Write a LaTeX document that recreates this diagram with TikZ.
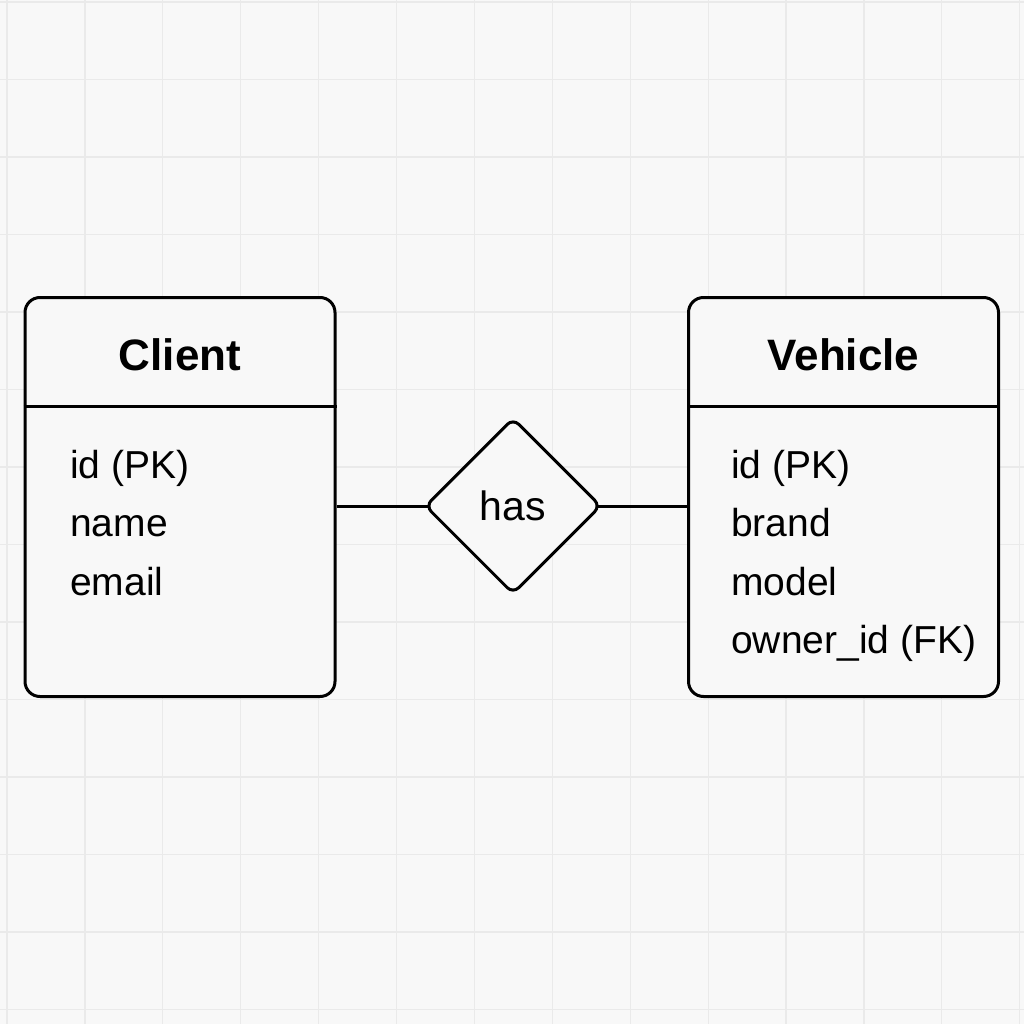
\documentclass[tikz,border=0pt]{standalone}
\usepackage{fontspec}
\setmainfont{Liberation Sans}
\usetikzlibrary{shapes.geometric}
\definecolor{bgcol}{HTML}{F8F8F8}
\definecolor{gridcol}{HTML}{EAEAEA}
\tikzset{
  entity/.style={draw=black, line width=3pt, rounded corners=15pt, minimum width=310pt, inner sep=0pt, fill=bgcol},
  titletext/.style={font=\fontsize{44}{52}\selectfont\bfseries, inner sep=0pt, anchor=base},
  attrtext/.style={font=\fontsize{39}{46}\selectfont, inner sep=0pt, anchor=base west},
  relation/.style={draw=black, line width=3pt, shape=diamond, minimum width=176pt, minimum height=176pt, inner sep=0pt, rounded corners=8pt, fill=bgcol, font=\fontsize{41}{48}\selectfont},
  conn/.style={draw=black, line width=3pt},
  gridline/.style={draw=gridcol, line width=1.2pt}
}
\begin{document}
\begin{tikzpicture}[x=1pt,y=-1pt]
\useasboundingbox (0,0) rectangle (1024,1024);
\fill[bgcol] (0,0) rectangle (1024,1024);
\foreach \i in {0,...,13} {
  \draw[gridline] (7+77.9*\i,0) -- (7+77.9*\i,1024);
  \draw[gridline] (0,2+77.5*\i) -- (1024,2+77.5*\i);
}
% Client entity
\node[entity, minimum height=399pt] (client) at (180,497) {};
\node[titletext] (clienttitle) at (180,370) {Client};
\draw[conn] (client.west |- 0,406) -- (client.east |- 0,406);
\node[attrtext] (c1) at (70,478) {id (PK)};
\node[attrtext] (c2) at (70,536) {name};
\node[attrtext] (c3) at (70,595) {email};
% Vehicle entity
\node[entity, minimum height=399pt] (vehicle) at (843.5,497) {};
\node[titletext] (vehicletitle) at (843.5,370) {Vehicle};
\draw[conn] (vehicle.west |- 0,406) -- (vehicle.east |- 0,406);
\node[attrtext] (v1) at (731,478) {id (PK)};
\node[attrtext] (v2) at (731,536) {brand};
\node[attrtext] (v3) at (731,595) {model};
\node[attrtext] (v4) at (731,653) {owner\_id (FK)};
% Relationship
\node[relation] (has) at (513,506) {has};
\draw[conn, shorten >=-4.5pt] (client.east |- has.west) -- (has.west);
\draw[conn, shorten <=-4.5pt] (has.east) -- (vehicle.west |- has.east);
\end{tikzpicture}
\end{document}
